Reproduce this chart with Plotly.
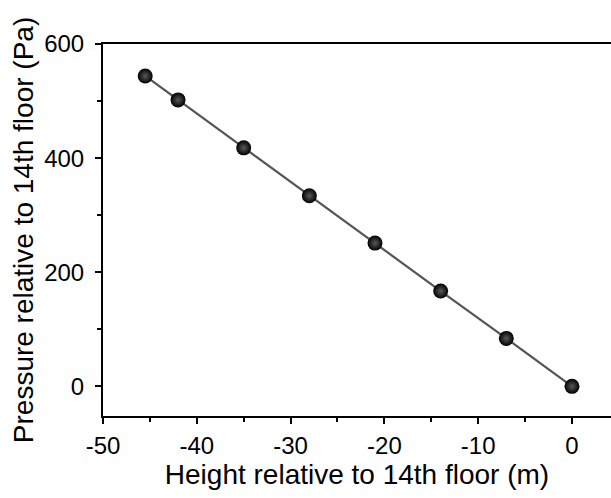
import plotly.graph_objects as go

height_m = [-45.5, -42, -35, -28, -21, -14, -7, 0]
pressure_pa = [544, 502, 418, 334, 251, 167, 84, 0]

x_ticks = [-50, -40, -30, -20, -10, 0]
x_ticktext = ["-50", "-40", "-30", "-20", "-10", "0"]
y_ticks = [0, 200, 400, 600]

x_title = "Height relative to 14th floor (m)"
y_title = "Pressure relative to 14th floor (Pa)"

fig = go.Figure()
fig.add_trace(go.Scatter(
    x=height_m, y=pressure_pa, mode="lines+markers",
    line=dict(color="#555555", width=2.2),
    marker=dict(size=15, color="#000000",
                gradient=dict(type="radial", color="#5a5a5a"),
                line=dict(width=0)),
    showlegend=False,
))

tick_font = dict(family="Arial", size=24, color="#000000")
title_font = dict(family="Arial", size=28, color="#000000")

fig.update_layout(
    width=611, height=498,
    margin=dict(l=103, r=0, t=44, b=82),
    paper_bgcolor="white", plot_bgcolor="white",
    font=tick_font,
    xaxis=dict(
        range=[-50, 4.16], tickvals=x_ticks, ticktext=x_ticktext,
        ticks="outside", ticklen=6, tickwidth=1.5, tickcolor="#000",
        minor=dict(tickvals=[-45, -35, -25, -15, -5], ticks="outside", ticklen=4, tickwidth=1.5, tickcolor="#000"),
        showline=True, linecolor="#000", linewidth=2, mirror=True,
        showgrid=False, zeroline=False,
        ticklabelstandoff=1,
        title=dict(text=x_title, standoff=2, font=title_font),
        tickfont=tick_font,
    ),
    yaxis=dict(
        range=[-52, 600], tickvals=y_ticks,
        ticks="outside", ticklen=6, tickwidth=1.5, tickcolor="#000",
        minor=dict(tickvals=[100, 300, 500], ticks="outside", ticklen=4, tickwidth=1.5, tickcolor="#000"),
        showline=True, linecolor="#000", linewidth=2, mirror=False,
        showgrid=False, zeroline=False,
        ticklabelstandoff=6,
        title=dict(text=y_title, standoff=2, font=title_font),
        tickfont=tick_font,
    ),
)

fig.write_html("out.html")
